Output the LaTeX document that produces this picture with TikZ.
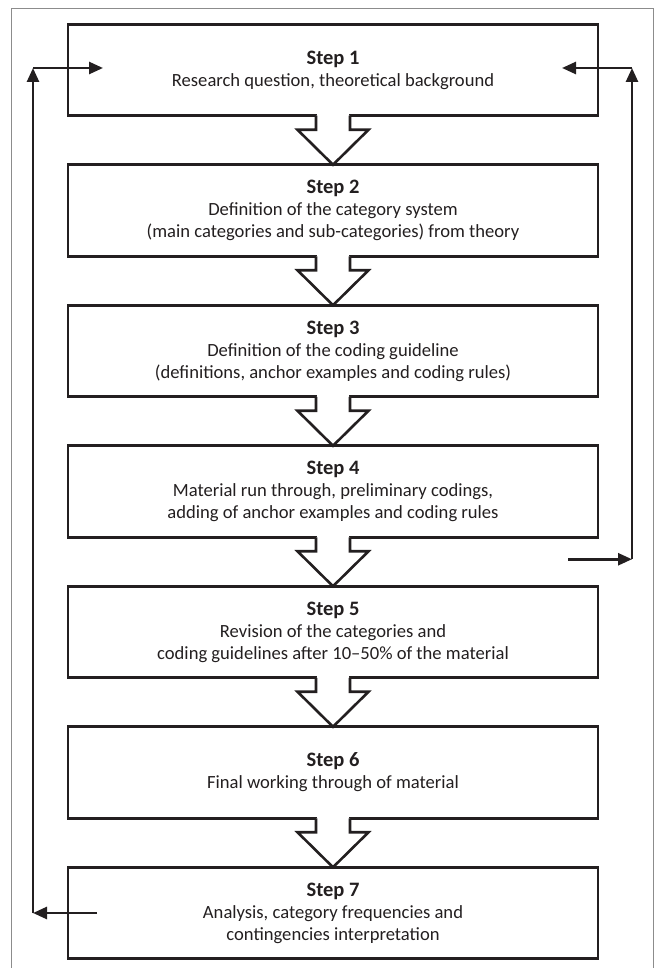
\documentclass[tikz,border=0pt]{standalone}
\usepackage{fontspec}
\setmainfont{Carlito}
\usetikzlibrary{positioning, arrows.meta, calc}
\definecolor{Ink}{HTML}{231F20}
\definecolor{FrameGray}{HTML}{8C8C8C}
\newcommand{\steplabel}[1]{{\fontsize{20.5}{22}\selectfont\bfseries Step #1}}

\begin{document}
\begin{tikzpicture}[x=1pt, y=1pt,
    stepbox/.style={draw=Ink, line width=2.6pt, minimum width=530pt, minimum height=91.5pt, inner sep=0pt, outer sep=0pt, align=center, text=Ink, font=\fontsize{18.6}{22}\selectfont},
    blockarr/.style={draw=Ink, line width=2.6pt, fill=white, line join=miter},
    fb/.style={-{Triangle[length=14pt, width=12pt]}, line width=2.6pt, draw=Ink}
]
\useasboundingbox (0,0) rectangle (660,-968);

% Frame
\draw[FrameGray, line width=1pt] (11.5,-968) -- (11.5,-9) -- (653.5,-9) -- (653.5,-968);

% Steps
\node[stepbox] (s1) at (333,-70) {\steplabel{1}\\Research question, theoretical background};
\node[stepbox, below=49pt of s1] (s2) {\steplabel{2}\\Definition of the category system\\(main categories and sub-categories) from theory};
\node[stepbox, below=49pt of s2] (s3) {\steplabel{3}\\Definition of the coding guideline\\(definitions, anchor examples and coding rules)};
\node[stepbox, below=49pt of s3] (s4) {\steplabel{4}\\Material run through, preliminary codings,\\adding of anchor examples and coding rules};
\node[stepbox, below=49pt of s4] (s5) {\steplabel{5}\\Revision of the categories and\\coding guidelines after 10--50\% of the material};
\node[stepbox, below=49pt of s5] (s6) {\steplabel{6}\\Final working through of material};
\node[stepbox, below=49pt of s6] (s7) {\steplabel{7}\\Analysis, category frequencies and\\contingencies interpretation};

% Block arrows between steps
\foreach \i/\j in {1/2, 2/3, 3/4, 4/5, 5/6, 6/7} {
  \fill[white] ($(s\i.south)+(-15.7,2)$) rectangle ($(s\i.south)+(15.7,-2)$);
  \draw[blockarr] ($(s\i.south)+(-17,0)$) -- ++(0,-14) -- ++(-18.5,0) -- (s\j.north)
    -- ($(s\i.south)+(35.5,-14)$) -- ++(-18.5,0) -- ++(0,14);
}

% Feedback (left)
\coordinate (l1) at ($(s7.west)+(29,0)$);
\coordinate (l2) at ($(s7.west)+(-35,0)$);
\coordinate (l3) at ($(s1.west)+(-35,2)$);
\coordinate (l4) at ($(s1.west)+(35,2)$);
\draw[fb] (l1) -- (l2);
\draw[fb] (l2) -- (l3);
\draw[fb] (l3) -- (l4);

% Feedback (right)
\coordinate (r1) at ($(s4.south east)+(-30,-22)$);
\coordinate (r2) at ($(s4.south east)+(34,-22)$);
\coordinate (r3) at ($(s1.east)+(34,2)$);
\coordinate (r4) at ($(s1.east)+(-36,2)$);
\draw[fb] (r1) -- (r2);
\draw[fb] (r2) -- (r3);
\draw[fb] (r3) -- (r4);

\end{tikzpicture}
\end{document}
